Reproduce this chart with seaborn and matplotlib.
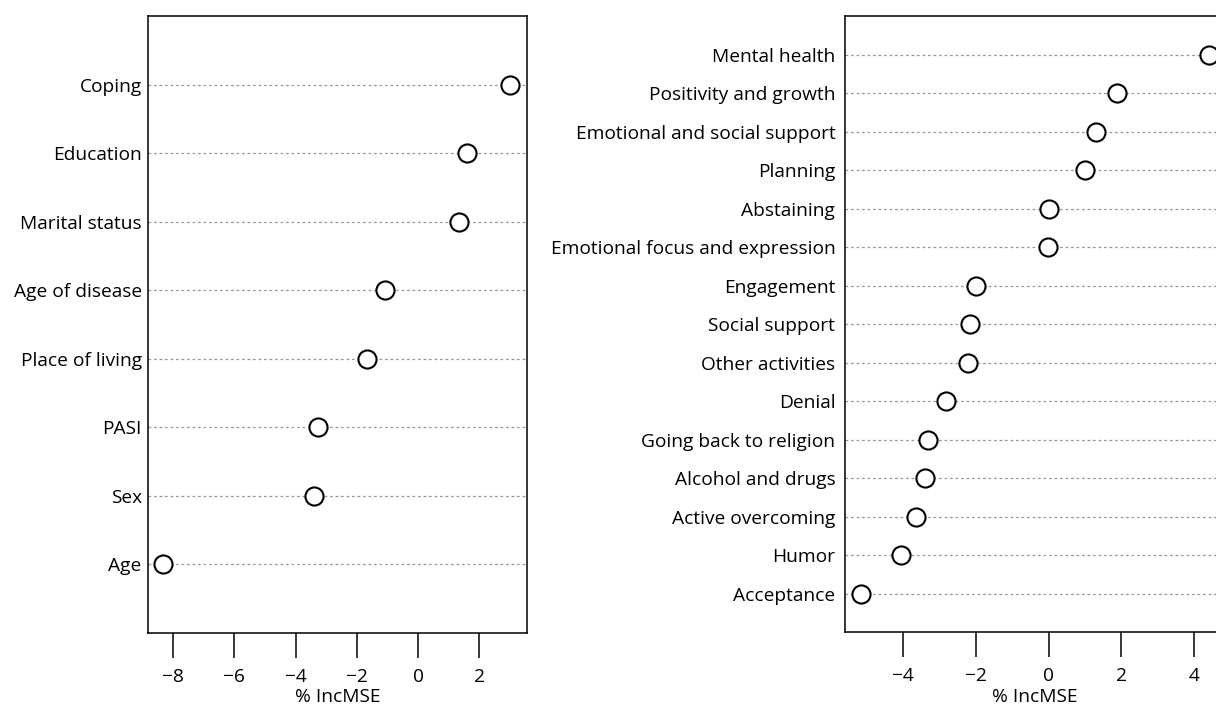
import matplotlib

matplotlib.use("Agg")

import matplotlib.pyplot as plt
import pandas as pd
import seaborn as sns

# left panel: sociodemographic / clinical predictors
left_names = ["Coping", "Education", "Marital status", "Age of disease",
              "Place of living", "PASI", "Sex", "Age"]
left_values = [3.0, 1.6, 1.34, -1.08, -1.67, -3.27, -3.40, -8.33]
left_ticks = [-8, -6, -4, -2, 0, 2]

# right panel: coping strategies
right_names = ["Mental health", "Positivity and growth", "Emotional and social support",
               "Planning", "Abstaining", "Emotional focus and expression", "Engagement",
               "Social support", "Other activities", "Denial", "Going back to religion",
               "Alcohol and drugs", "Active overcoming", "Humor", "Acceptance"]
right_values = [4.42, 1.89, 1.31, 0.99, 0.0, -0.03, -2.0, -2.17, -2.22, -2.83,
                -3.32, -3.40, -3.65, -4.07, -5.16]
right_ticks = [-4, -2, 0, 2, 4]

XLABEL = "% IncMSE"
FS = 13.8


def _dotchart(ax, names, values, ticks, xlim, ypad):
    n = len(names)
    df = pd.DataFrame({"name": names, "value": values,
                       "pos": [n - i for i in range(n)]})
    sns.scatterplot(data=df, x="value", y="pos", ax=ax, s=170, marker="o",
                    facecolor="white", edgecolor="black", linewidth=1.5,
                    zorder=3, clip_on=True)
    ax.set_yticks(df["pos"])
    ax.set_yticklabels(df["name"])
    ax.yaxis.grid(True, linestyle=(0, (2.2, 2.2)), color="#999999", linewidth=0.9)
    ax.xaxis.grid(False)
    ax.set_axisbelow(True)
    ax.set_ylim(0, n + 1)
    ax.set_xlim(*xlim)
    ax.set_xticks(ticks)
    ax.set_xticklabels([f"{t}".replace("-", "\u2212") for t in ticks])
    ax.set_xlabel(XLABEL, labelpad=1.5, color="black", fontsize=FS)
    ax.set_ylabel("")
    ax.tick_params(axis="x", length=18, width=1.1, pad=7.5, labelsize=FS,
                   color="black", labelcolor="black", bottom=True)
    ax.tick_params(axis="y", length=0, pad=ypad, labelsize=FS, labelcolor="black")
    for sp in ax.spines.values():
        sp.set_color("black")
        sp.set_linewidth(1.1)


def main() -> None:
    sns.set_style("white")
    plt.rcParams["font.family"] = ["Open Sans", "DejaVu Sans"]

    fig = plt.figure(figsize=(12.16, 7.06), dpi=100)
    ax_l = fig.add_axes([0.1217, 0.1034, 0.3117, 0.874])
    ax_r = fig.add_axes([0.6949, 0.1048, 0.3125, 0.8725])

    _dotchart(ax_l, left_names, left_values, left_ticks, (-8.82, 3.56), 4.5)
    _dotchart(ax_r, right_names, right_values, right_ticks, (-5.60, 4.85), 7)

    fig.savefig("out.png", dpi=100)
    plt.close(fig)


if __name__ == "__main__":
    main()
